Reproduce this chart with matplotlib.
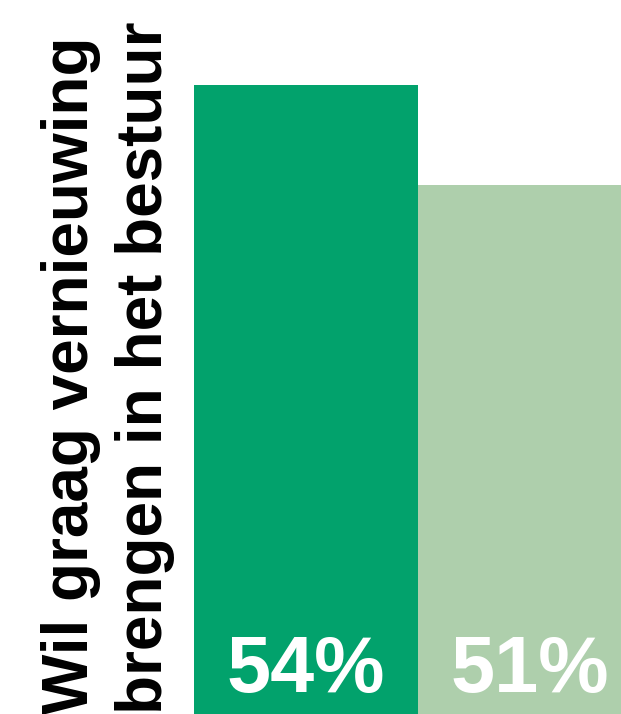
import matplotlib
matplotlib.use('Agg')
import matplotlib.pyplot as plt

categories = ['A', 'B']
values = [54, 51]
labels = ['54%', '51%']
colors = ['#02A26C', '#AECFAC']
ylabel = 'Wil graag vernieuwing\nbrengen in het bestuur'

plt.rcParams['font.family'] = ['Liberation Sans', 'DejaVu Sans']


def main():
    fig = plt.figure(figsize=(6.21, 7.14), dpi=100)
    ax = fig.add_axes([194 / 621, 0, 427 / 621, 1])
    x = list(range(len(categories)))
    ax.bar(x, values, width=1.0, color=colors, linewidth=0)
    ax.set_xlim(-0.5, 1.5 - 21 / 224)
    ax.set_ylim(35.13, 56.55)
    for xi, lab in zip(x, labels):
        ax.text(xi, 0.031, lab, transform=ax.get_xaxis_transform(),
                ha='center', va='baseline', color='white',
                fontsize=57, fontweight='bold')
    ax.axis('off')

    fig.text(41 / 621, 0, ylabel, rotation=90, ha='left', va='bottom',
             multialignment='left', fontsize=46, fontweight='bold',
             color='black', linespacing=1.3)

    fig.savefig('out.png', dpi=100)


if __name__ == '__main__':
    main()
